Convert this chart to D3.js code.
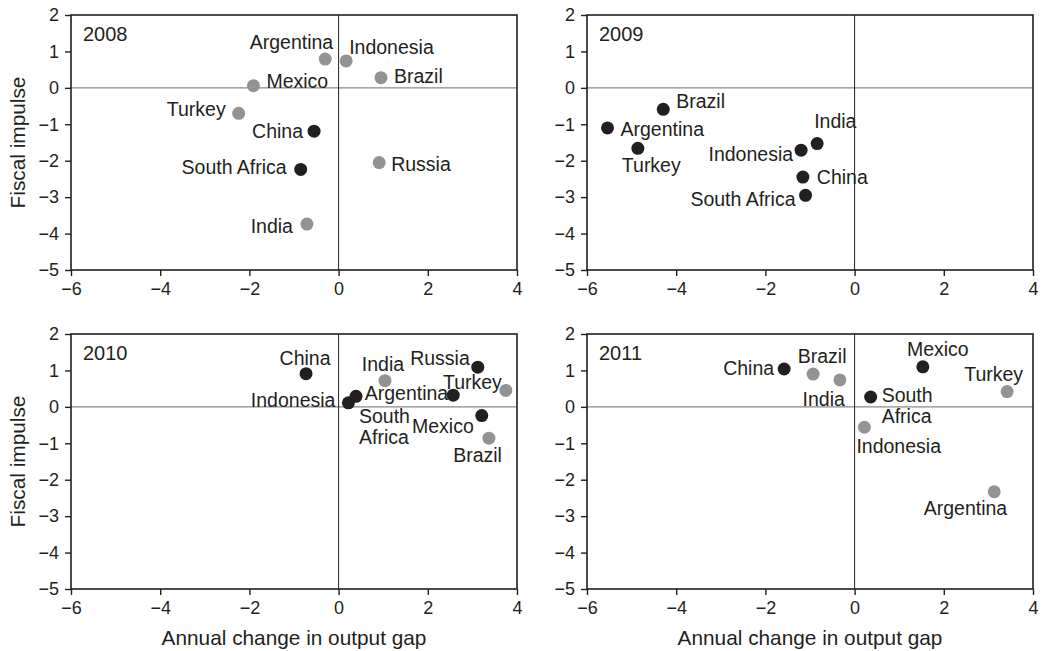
<!DOCTYPE html>
<html>
<head>
<meta charset="utf-8">
<script src="https://cdn.jsdelivr.net/npm/d3@7"></script>
<style>
  html, body { margin: 0; padding: 0; background: #ffffff; }
  svg { display: block; font-family: "Liberation Sans", Arial, sans-serif; }
</style>
</head>
<body>
<svg id="chart" width="1041" height="651"></svg>
<script>
// ---- Data: annual change in output gap (x) vs fiscal impulse (y), by year ----
const years = ["2008", "2009", "2010", "2011"];

const countries2008 = ["Argentina", "Brazil", "China", "India", "Indonesia", "Mexico", "Russia", "South Africa", "Turkey"];
const outputGap2008 = [-0.30, 0.95, -0.55, -0.71, 0.17, -1.91, 0.91, -0.85, -2.24];
const impulse2008   = [0.79, 0.28, -1.19, -3.74, 0.74, 0.06, -2.05, -2.24, -0.70];
const group2008     = ["grey", "grey", "dark", "grey", "grey", "grey", "grey", "dark", "grey"];

const countries2009 = ["Argentina", "Brazil", "China", "India", "Indonesia", "South Africa", "Turkey"];
const outputGap2009 = [-5.54, -4.29, -1.16, -0.84, -1.20, -1.10, -4.86];
const impulse2009   = [-1.10, -0.59, -2.45, -1.53, -1.71, -2.95, -1.66];
const group2009     = ["dark", "dark", "dark", "dark", "dark", "dark", "dark"];

const countries2010 = ["Argentina", "Brazil", "China", "India", "Indonesia", "Mexico", "Russia", "South Africa", "Turkey"];
const outputGap2010 = [2.57, 3.37, -0.73, 1.04, 0.22, 3.21, 3.12, 0.39, 3.75];
const impulse2010   = [0.32, -0.86, 0.91, 0.72, 0.11, -0.24, 1.09, 0.29, 0.45];
const group2010     = ["dark", "grey", "dark", "grey", "dark", "dark", "dark", "dark", "grey"];

const countries2011 = ["Argentina", "Brazil", "China", "India", "Indonesia", "Mexico", "South Africa", "Turkey"];
const outputGap2011 = [3.13, -0.93, -1.58, -0.33, 0.22, 1.53, 0.36, 3.42];
const impulse2011   = [-2.33, 0.90, 1.04, 0.74, -0.56, 1.10, 0.27, 0.42];
const group2011     = ["grey", "grey", "dark", "grey", "grey", "dark", "dark", "grey"];

const xDomain = [-6, 4];
const yDomain = [-5, 2];
const xTicks = [-6, -4, -2, 0, 2, 4];
const yTicks = [-5, -4, -3, -2, -1, 0, 1, 2];
const xTitle = "Annual change in output gap";
const yTitle = "Fiscal impulse";

// ---- Label placement: offset from the dot, text anchor, line breaks ----
const labelLayout = {
  "2008": {
    "Argentina": [8, -17, "end"], "Brazil": [13, -1, "start"], "China": [-11, 0, "end"],
    "India": [-14, 2, "end"], "Indonesia": [3, -14, "start"], "Mexico": [13, -4, "start"],
    "Russia": [12, 2, "start"], "South Africa": [-14, -2, "end"], "Turkey": [-13, -4, "end"]
  },
  "2009": {
    "Argentina": [13, 1, "start"], "Brazil": [13, -8, "start"], "China": [14, 0, "start"],
    "India": [-3, -22, "start"], "Indonesia": [-8, 4, "end"], "South Africa": [-10, 4, "end"],
    "Turkey": [-16, 17, "start"]
  },
  "2010": {
    "Argentina": [-5, -2, "end"], "Brazil": [13, 17, "end"], "China": [-1, -16, "middle"],
    "India": [-2, -16, "middle"], "Indonesia": [-13, -3, "end"], "Mexico": [-8, 11, "end"],
    "Russia": [-8, -9, "end"], "South Africa": [3, 20, "start", true], "Turkey": [-4, -8, "end"]
  },
  "2011": {
    "Argentina": [13, 16, "end"], "Brazil": [9, -18, "middle"], "China": [-10, -1, "end"],
    "India": [5, 19, "end"], "Indonesia": [-8, 19, "start"], "Mexico": [15, -18, "middle"],
    "South Africa": [11, -2, "start", true], "Turkey": [16, -17, "end"]
  }
};

const panelData = {
  "2008": { names: countries2008, x: outputGap2008, y: impulse2008, g: group2008 },
  "2009": { names: countries2009, x: outputGap2009, y: impulse2009, g: group2009 },
  "2010": { names: countries2010, x: outputGap2010, y: impulse2010, g: group2010 },
  "2011": { names: countries2011, x: outputGap2011, y: impulse2011, g: group2011 }
};

// ---- Layout ----
const ink = "#231f20";
const colour = d3.scaleOrdinal().domain(["dark", "grey"]).range([ink, "#939393"]);
const panelW = 446, panelH = 255;
const panelOrigins = [[71, 15], [587, 15], [71, 334], [587, 334]];

const svg = d3.select("#chart");

years.forEach((year, i) => {
  const [ox, oy] = panelOrigins[i];
  const d = panelData[year];
  const points = d.names.map((n, k) => ({ name: n, x: d.x[k], y: d.y[k], g: d.g[k] }));

  const x = d3.scaleLinear().domain(xDomain).range([0, panelW]);
  const y = d3.scaleLinear().domain(yDomain).range([panelH, 0]);

  const g = svg.append("g").attr("transform", `translate(${ox},${oy})`);

  // zero reference lines
  g.append("line")
    .attr("x1", 0).attr("x2", panelW)
    .attr("y1", y(0)).attr("y2", y(0))
    .attr("stroke", "#8a8a8a").attr("stroke-width", 1.4);
  g.append("line")
    .attr("x1", x(0)).attr("x2", x(0))
    .attr("y1", 0).attr("y2", panelH)
    .attr("stroke", ink).attr("stroke-width", 1);

  // axes
  const fmt = v => (v < 0 ? "\u2212" + Math.abs(v) : String(v));
  const xAxis = g.append("g").attr("transform", `translate(0,${panelH})`)
    .call(d3.axisBottom(x).tickValues(xTicks).tickFormat(fmt).tickSize(6).tickPadding(6).tickSizeOuter(0));
  const yAxis = g.append("g")
    .call(d3.axisLeft(y).tickValues(yTicks).tickFormat(fmt).tickSize(6).tickPadding(6).tickSizeOuter(0));
  [xAxis, yAxis].forEach(a => {
    a.select(".domain").remove();
    a.selectAll("line").attr("stroke", ink).attr("stroke-width", 1.4);
    a.selectAll("text").attr("fill", ink).style("font-size", "18px")
      .style("font-family", "'Liberation Sans', Arial, sans-serif");
  });

  // frame
  g.append("rect")
    .attr("x", 0).attr("y", 0).attr("width", panelW).attr("height", panelH)
    .attr("fill", "none").attr("stroke", ink).attr("stroke-width", 1.6);

  // year
  g.append("text")
    .attr("x", 12).attr("y", 19).attr("dy", "0.35em")
    .attr("fill", ink).style("font-size", "20px")
    .text(year);

  // dots
  g.selectAll("circle.pt").data(points).join("circle")
    .attr("class", "pt")
    .attr("cx", p => x(p.x)).attr("cy", p => y(p.y))
    .attr("r", 6.5)
    .attr("fill", p => colour(p.g));

  // labels
  const lay = labelLayout[year];
  points.forEach(p => {
    const [dx, dy, anchor, wrap] = lay[p.name];
    const t = g.append("text")
      .attr("x", x(p.x) + dx).attr("y", y(p.y) + dy).attr("dy", "0.35em")
      .attr("text-anchor", anchor)
      .attr("fill", ink).style("font-size", "19.5px");
    if (wrap) {
      p.name.split(" ").forEach((w, k) => {
        t.append("tspan").attr("x", x(p.x) + dx).attr("dy", k === 0 ? "0.35em" : "1.08em").text(w);
      });
    } else {
      t.text(p.name);
    }
  });

  // axis titles
  if (i % 2 === 0) {
    svg.append("text")
      .attr("transform", `translate(18,${oy + panelH / 2}) rotate(-90)`)
      .attr("dy", "0.35em").attr("text-anchor", "middle")
      .attr("fill", ink).style("font-size", "20.8px")
      .text(yTitle);
  }
  if (i >= 2) {
    svg.append("text")
      .attr("x", ox + panelW / 2).attr("y", 638).attr("dy", "0.35em")
      .attr("text-anchor", "middle")
      .attr("fill", ink).style("font-size", "20.8px")
      .text(xTitle);
  }
});
</script>
</body>
</html>
